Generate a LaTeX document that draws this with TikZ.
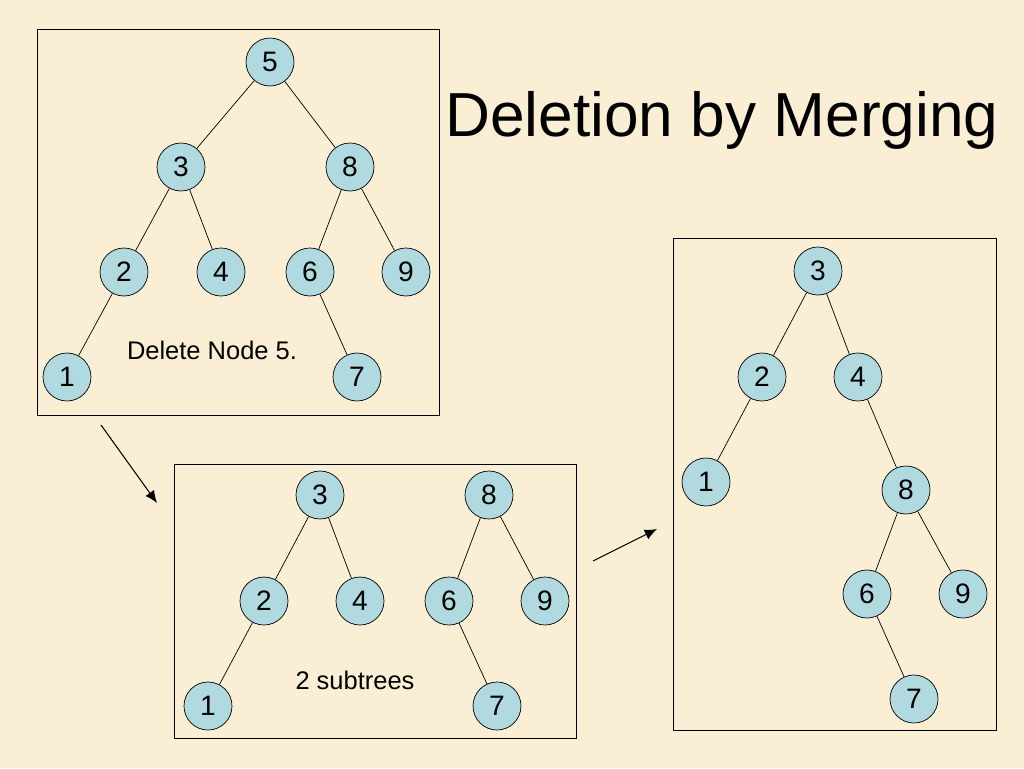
\documentclass[tikz,border=0pt]{standalone}
\usepackage{fontspec}
\setmainfont{Liberation Sans}
\usetikzlibrary{arrows.meta}
\definecolor{paper}{RGB}{250,239,212}
\definecolor{nodeblue}{RGB}{176,218,224}
\tikzset{
	treenode/.style={
		circle, draw, thin, fill=nodeblue, minimum size=0.96cm, inner sep=0pt,
		font=\fontsize{16}{18}\selectfont
	},
	panel/.style={
		draw, thin
	},
	tree edge/.style={
		thin
	},
	step arrow/.style={
		semithick, -{Latex[length=7pt,width=6pt]}
	}
}
\begin{document}
\begin{tikzpicture}[x=0.02cm, y=-0.02cm]
    \fill[paper] (0,0) rectangle (1024,768);
    \useasboundingbox (0,0) rectangle (1024,768);

    \node[font=\fontsize{35.4}{40}\selectfont] (title) at (722,120) {Deletion by Merging};

    % original tree
    \draw[panel] (37,29) rectangle (439,415);
    \foreach \n/\x/\y in {5/270/62, 3/181/167, 8/350/167, 2/124/272, 4/221/272,
        6/310/272, 9/406/272, 1/67/377, 7/357/377}
        \node[treenode] (a\n) at (\x,\y) {\n};
    \foreach \p/\c in {5/3, 5/8, 3/2, 3/4, 8/6, 8/9, 2/1, 6/7}
        \draw[tree edge] (a\p) -- (a\c);
    \node[font=\fontsize{14.5}{16}\selectfont] (note) at (212,350) {Delete Node 5.};

    % two subtrees
    \draw[panel] (174,464) rectangle (576,738);
    \foreach \n/\x/\y in {3/320/495, 8/489/495, 2/264/601, 4/360/601,
        6/449/601, 9/545/601, 1/208/706, 7/497/706}
        \node[treenode] (b\n) at (\x,\y) {\n};
    \foreach \p/\c in {3/2, 3/4, 8/6, 8/9, 2/1, 6/7}
        \draw[tree edge] (b\p) -- (b\c);
    \node[font=\fontsize{14.5}{16}\selectfont] (subs) at (355,680) {2 subtrees};

    % merged tree
    \draw[panel] (673,238) rectangle (996,730);
    \foreach \n/\x/\y in {3/818/271, 2/762/377, 4/858/377, 1/706/482,
        8/906/490, 6/867/594, 9/963/594, 7/914/699}
        \node[treenode] (c\n) at (\x,\y) {\n};
    \foreach \p/\c in {3/2, 3/4, 2/1, 4/8, 8/6, 8/9, 6/7}
        \draw[tree edge] (c\p) -- (c\c);

    \coordinate (s1) at (101,425);
    \coordinate (e1) at (157,503);
    \coordinate (s2) at (593,561);
    \coordinate (e2) at (657,529);
    \draw[step arrow] (s1) -- (e1);
    \draw[step arrow] (s2) -- (e2);
\end{tikzpicture}
\end{document}
